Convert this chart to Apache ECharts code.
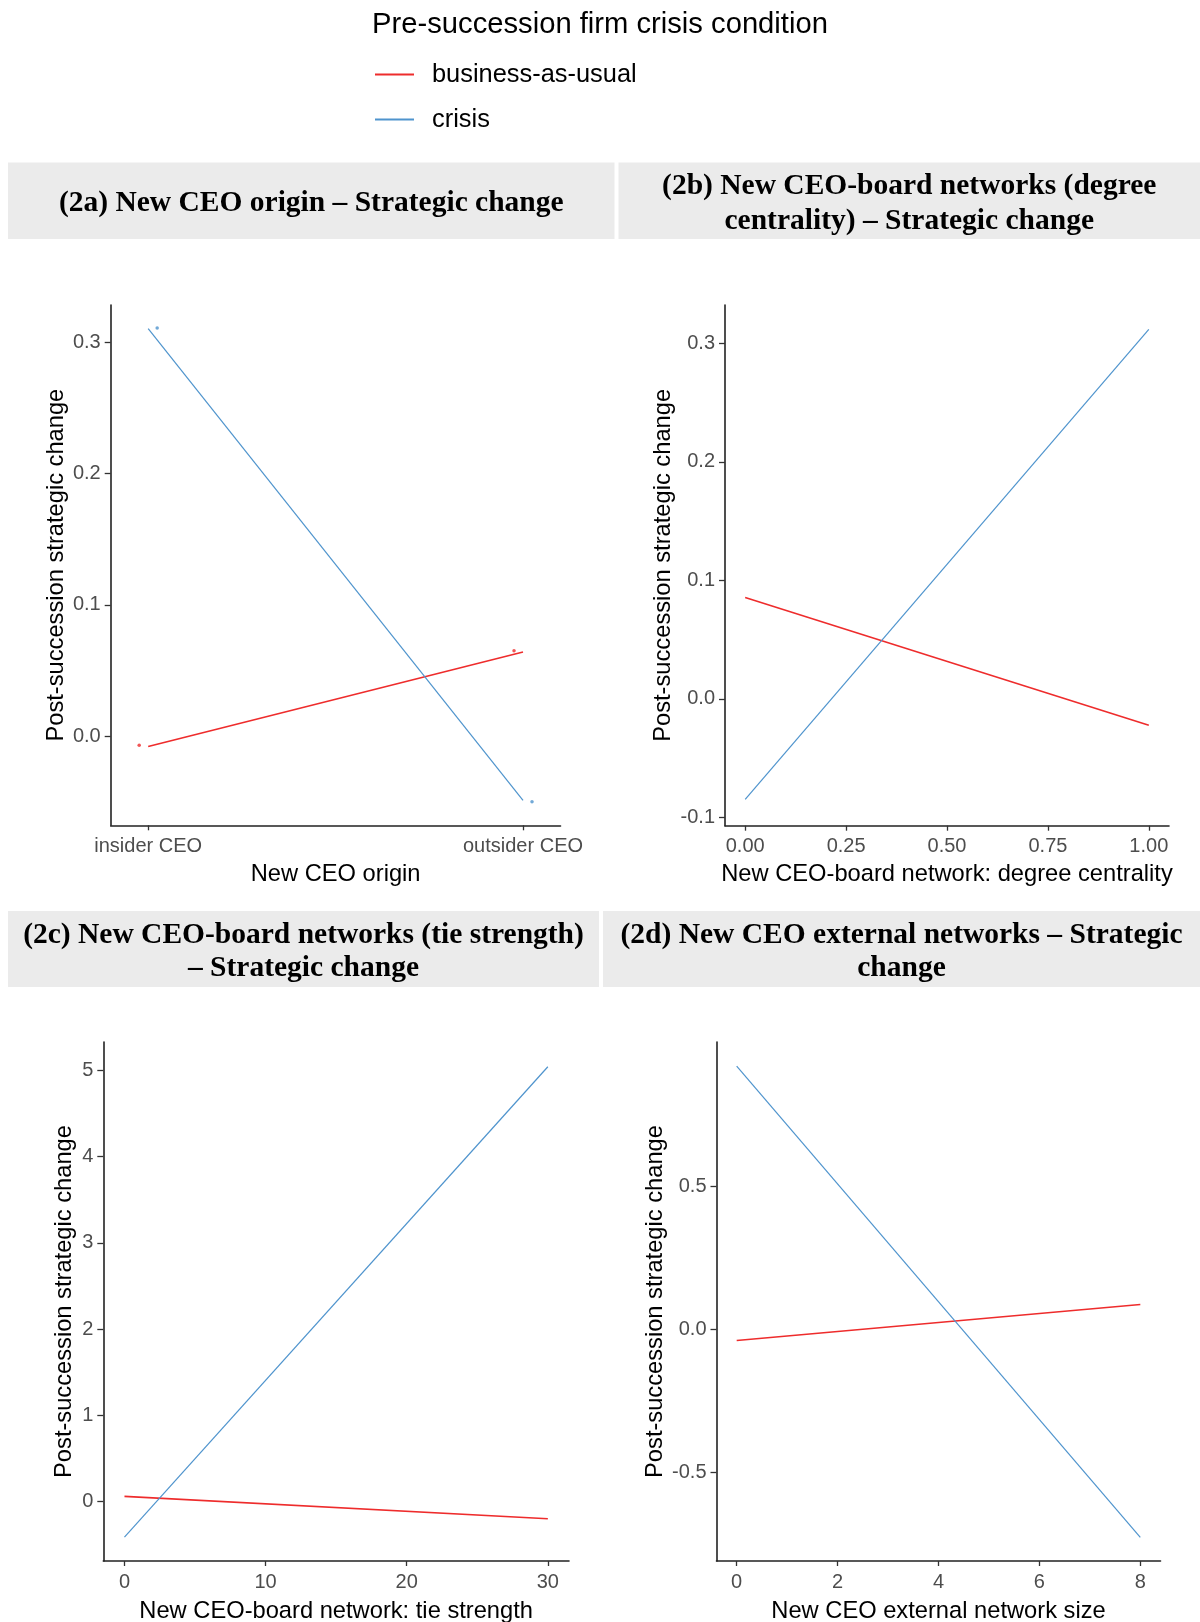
<!DOCTYPE html>
<html>
<head>
<meta charset="utf-8">
<script src="https://cdn.jsdelivr.net/npm/echarts@6/dist/echarts.min.js"></script>
<style>html,body{margin:0;padding:0;background:#fff}#c{width:1200px;height:1622px}</style>
</head>
<body>
<div id="c"></div>
<script>
// ---------- data ----------
const originCats = ['insider CEO', 'outsider CEO'];
const originBAU = [-0.008, 0.064];
const originCrisis = [0.3105, -0.049];
const originBAUpts = [-0.007, 0.065];
const originCrisisPts = [0.311, -0.050];

const degX = [0, 1];
const degBAU = [0.0856, -0.0223];
const degCrisis = [-0.0848, 0.312];

const tieX = [0, 30];
const tieBAU = [0.06, -0.2];
const tieCrisis = [-0.413, 5.043];

const extX = [0, 8];
const extBAU = [-0.04, 0.086];
const extCrisis = [0.92, -0.728];

const yTicksA = [0, 0.1, 0.2, 0.3];
const yTicksB = [-0.1, 0, 0.1, 0.2, 0.3];
const xTicksB = [0, 0.25, 0.5, 0.75, 1];
const yTicksC = [0, 1, 2, 3, 4, 5];
const xTicksC = [0, 10, 20, 30];
const yTicksD = [-0.5, 0, 0.5];
const xTicksD = [0, 2, 4, 6, 8];

const seriesNames = ['business-as-usual', 'crisis'];
const headers = [
  '(2a) New CEO origin – Strategic change',
  '(2b) New CEO-board networks (degree\ncentrality) – Strategic change',
  '(2c) New CEO-board networks (tie strength)\n– Strategic change',
  '(2d) New CEO external networks – Strategic\nchange'
];
const yTitle = 'Post-succession strategic change';
const xTitles = ['New CEO origin', 'New CEO-board network: degree centrality',
  'New CEO-board network: tie strength', 'New CEO external network size'];

// ---------- style ----------
const RED = '#EE2C2C', BLUE = '#4F94CD';
const SANS = 'Liberation Sans, Arial, sans-serif';
const SERIF = 'Liberation Serif, Times New Roman, serif';
const dodge = 0.024;

const grids = [
  {left: 110.7, top: 305, width: 449.8, height: 520.3},
  {left: 725, top: 305, width: 444, height: 520.7},
  {left: 103.3, top: 1042, width: 465.7, height: 519},
  {left: 716.5, top: 1042, width: 444, height: 519}
].map(g => Object.assign({outerBoundsMode: 'none', containLabel: false}, g));

function axisCommon() {
  return {
    type: 'value',
    axisLine: {show: true, onZero: false, lineStyle: {color: '#222', width: 1.6}},
    axisTick: {show: true, length: 5, lineStyle: {color: '#333', width: 1.3}},
    splitLine: {show: false},
    axisLabel: {color: '#4D4D4D', fontSize: 20, fontFamily: SANS, margin: 11},
    nameTextStyle: {color: '#000', fontSize: 23.7, fontFamily: SANS},
    nameLocation: 'middle'
  };
}
function mkX(i, min, max, ticks, fmt, gap) {
  const a = axisCommon();
  a.gridIndex = i; a.min = min; a.max = max;
  a.axisLabel.customValues = ticks; a.axisTick.customValues = ticks;
  a.axisLabel.formatter = fmt; a.name = xTitles[i]; a.nameGap = gap;
  return a;
}
function mkY(i, min, max, ticks, fmt, gap) {
  const a = axisCommon();
  a.gridIndex = i; a.min = min; a.max = max;
  a.axisTick.length = 6;
  a.axisLabel.margin = 10;
  a.axisLabel.customValues = ticks; a.axisTick.customValues = ticks;
  a.axisLabel.formatter = fmt; a.name = yTitle; a.nameGap = gap;
  return a;
}
const f1 = v => Number(v).toFixed(1);
const f2 = v => Number(v).toFixed(2);
const f0 = v => String(Math.round(v));

const xAxes = [
  mkX(0, 0.9, 2.1, [1, 2], v => originCats[Math.round(v) - 1], 37),
  mkX(1, -0.05, 1.05, xTicksB, f2, 37),
  mkX(2, -1.5, 31.5, xTicksC, f0, 38.5),
  mkX(3, -0.4, 8.4, xTicksD, f0, 38.5)
];
const yAxes = [
  mkY(0, -0.068, 0.3285, yTicksA, f1, 42),
  mkY(1, -0.1071, 0.3325, yTicksB, f1, 50),
  mkY(2, -0.69, 5.33, yTicksC, f0, 27),
  mkY(3, -0.811, 1.004, yTicksD, f1, 49)
];

function line(i, xs, ys, k) {
  return {
    type: 'line', name: seriesNames[k], xAxisIndex: i, yAxisIndex: i,
    data: xs.map((x, j) => [x, ys[j]]), showSymbol: false, silent: true,
    lineStyle: {color: k === 0 ? RED : BLUE, width: k === 0 ? 1.6 : 1.2},
    itemStyle: {color: k === 0 ? RED : BLUE}, animation: false
  };
}
function dots(i, xs, ys, k, off) {
  return {
    type: 'scatter', name: seriesNames[k], xAxisIndex: i, yAxisIndex: i,
    data: xs.map((x, j) => [x + off, ys[j]]), symbolSize: 3.5, silent: true,
    itemStyle: {color: k === 0 ? RED : BLUE}, animation: false
  };
}
const catX = originCats.map((c, j) => j + 1);
const series = [
  line(0, catX, originBAU, 0), line(0, catX, originCrisis, 1),
  dots(0, catX, originBAUpts, 0, -dodge), dots(0, catX, originCrisisPts, 1, dodge),
  line(1, degX, degBAU, 0), line(1, degX, degCrisis, 1),
  line(2, tieX, tieBAU, 0), line(2, tieX, tieCrisis, 1),
  line(3, extX, extBAU, 0), line(3, extX, extCrisis, 1)
];

// strip headers
const boxes = [
  {x: 8, y: 162.5, w: 606.5, h: 76.5, lh: 34.5},
  {x: 618.5, y: 162.5, w: 581.5, h: 76.5, lh: 34.5},
  {x: 8, y: 911, w: 591, h: 76, lh: 33},
  {x: 603, y: 911, w: 597, h: 76, lh: 33}
];
const graphic = [];
boxes.forEach((b, i) => {
  graphic.push({type: 'rect', shape: {x: b.x, y: b.y, width: b.w, height: b.h},
    style: {fill: '#EBEBEB'}, silent: true});
  graphic.push({type: 'text', x: b.x + b.w / 2, y: b.y + b.h / 2 + 3,
    style: {text: headers[i], fill: '#000', font: 'bold 29.5px ' + SERIF,
      align: 'center', verticalAlign: 'middle', lineHeight: b.lh}, silent: true});
});

const chart = echarts.init(document.getElementById('c'), null, {renderer: 'canvas'});
chart.setOption({
  animation: false,
  backgroundColor: '#fff',
  title: {text: 'Pre-succession firm crisis condition', left: 'center', top: 5,
    textStyle: {fontSize: 29.2, fontWeight: 'normal', color: '#000', fontFamily: SANS}},
  legend: {
    orient: 'vertical', left: 370, top: 57, itemWidth: 39, itemHeight: 2, itemGap: 20,
    textStyle: {fontSize: 25.4, color: '#000', fontFamily: SANS, padding: [0, 0, 0, 13]},
    data: [
      {name: seriesNames[0], icon: 'rect', itemStyle: {color: RED}},
      {name: seriesNames[1], icon: 'rect', itemStyle: {color: BLUE}}
    ],
    selectedMode: false
  },
  grid: grids,
  xAxis: xAxes,
  yAxis: yAxes,
  series: series,
  graphic: graphic
});
</script>
</body>
</html>
